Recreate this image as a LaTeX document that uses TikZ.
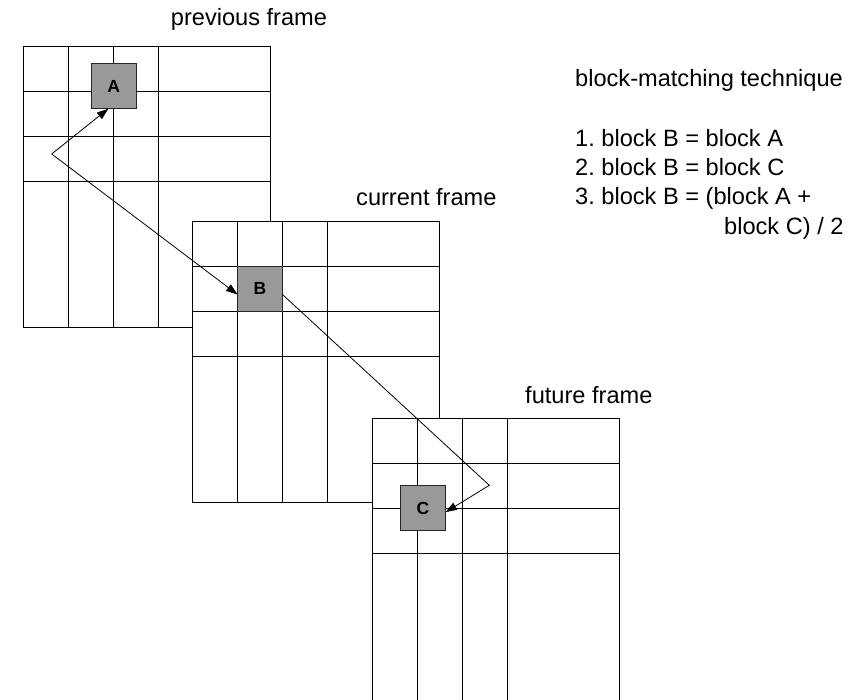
\documentclass[tikz,border=0pt]{standalone}
\usepackage{fontspec}
\setmainfont{Liberation Sans}
\usetikzlibrary{arrows.meta}
\definecolor{blockgray}{RGB}{153,153,153}
\frenchspacing
\begin{document}
\begin{tikzpicture}[x=1pt,y=-1pt,
  framebox/.style={draw=black, fill=white, line width=0.9pt, minimum width=247.4pt, minimum height=281pt, inner sep=0pt, outer sep=0pt, anchor=north west},
  gridline/.style={draw=black, line width=0.9pt},
  blockbox/.style={draw=black!85, fill=blockgray, line width=0.9pt, minimum size=45pt, inner sep=0pt, outer sep=0pt, font=\fontsize{17.5}{20}\selectfont\bfseries},
  lbl/.style={anchor=base west, inner sep=0pt, font=\fontsize{23.6}{28}\selectfont},
  arr/.style={draw=black, line width=0.8pt, -{Triangle[length=11.5pt,width=8pt]}}
]
\useasboundingbox (0,0) rectangle (865,699);

% previous frame
\node[framebox] (prev) at (23.3,46.7) {};
\foreach \off in {45,90,135} {
  \draw[gridline] ([xshift=\off pt]prev.north west) -- ([xshift=\off pt]prev.south west);
  \draw[gridline] ([yshift=-\off pt]prev.north west) -- ([yshift=-\off pt]prev.north east);
}
\node[blockbox] (A) at (113.8,86.2) {A};

% current frame
\node[framebox] (cur) at (192,221) {};
\foreach \off in {45,90,135} {
  \draw[gridline] ([xshift=\off pt]cur.north west) -- ([xshift=\off pt]cur.south west);
  \draw[gridline] ([yshift=-\off pt]cur.north west) -- ([yshift=-\off pt]cur.north east);
}
\node[blockbox] (B) at (260,288.5) {B};

% future frame
\node[framebox, minimum height=292pt] (fut) at (372.3,418.3) {};
\foreach \off in {45,90,135} {
  \draw[gridline] ([xshift=\off pt]fut.north west) -- ([xshift=\off pt]fut.south west);
  \draw[gridline] ([yshift=-\off pt]fut.north west) -- ([yshift=-\off pt]fut.north east);
}
\node[blockbox] (C) at (423,508.2) {C};

% motion vectors
\coordinate (k1) at (51.7,154);
\coordinate (k2) at (489.3,485.3);
\draw[arr] (k1) -- ([xshift=-5.5pt]A.south);
\draw[arr] (k1) -- ([yshift=-6pt]B.west);
\draw[arr] ([yshift=-6pt]B.east) -- (k2) -- ([yshift=-4pt]C.east);

% labels
\node[lbl] (tprev) at (170.7,25.3) {previous frame};
\node[lbl] (tcur) at (356,205) {current frame};
\node[lbl] (tfut) at (525,403) {future frame};

\node[lbl] (t0) at (575,86.7) {block-matching technique};
\node[lbl] (t1) at (575,146) {1. block B = block A};
\node[lbl] (t2) at (575,175.3) {2. block B = block C};
\node[lbl] (t3) at (575,204.6) {3. block B = (block A +};
\node[lbl] (t4) at (724,234) {block C) / 2};
\end{tikzpicture}
\end{document}
